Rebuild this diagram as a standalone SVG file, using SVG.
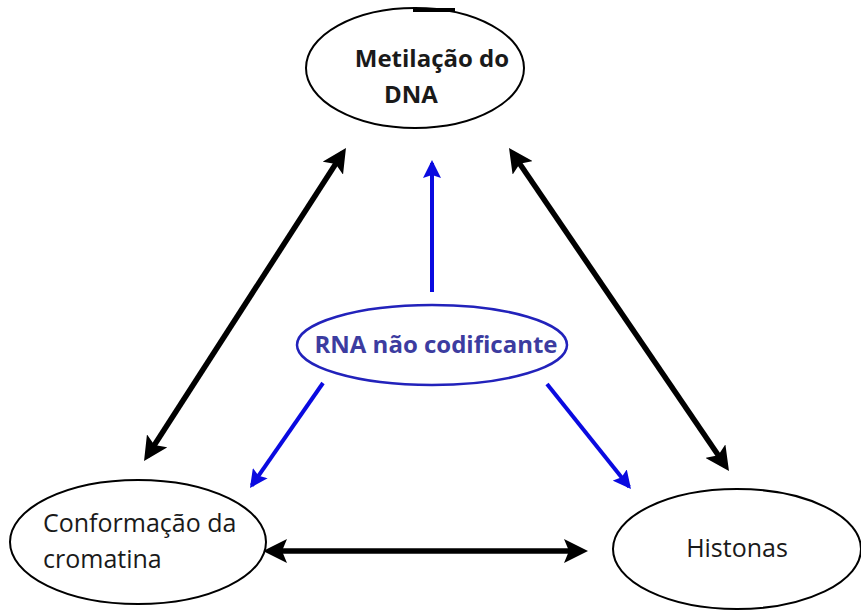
<svg xmlns="http://www.w3.org/2000/svg" width="861" height="611" viewBox="0 0 861 611">
<style>
.node{fill:#fff;stroke:#000;stroke-width:2}
.t{font-family:"Open Sans","Liberation Sans",sans-serif;fill:#1a1a1a;text-anchor:middle}
.b{font-weight:bold}
.blk{stroke:#000;stroke-width:5.5;fill:none}
.blu{stroke:#0a0ae0;stroke-width:4;fill:none}
</style>
<defs>
<marker id="ab" markerUnits="userSpaceOnUse" markerWidth="26" markerHeight="24" refX="18" refY="12" orient="auto-start-reverse" viewBox="0 0 26 24">
<path d="M0,0 L24,12 L0,24 L5,12 Z" fill="#000"/>
</marker>
<marker id="au" markerUnits="userSpaceOnUse" markerWidth="20" markerHeight="18" refX="15" refY="9" orient="auto" viewBox="0 0 20 18">
<path d="M0,0 L18,9 L0,18 L3,9 Z" fill="#0a0ae0"/>
</marker>
</defs>
<rect width="861" height="611" fill="#fff"/>
<g id="connectors">
<line class="blk" x1="342.7" y1="153" x2="147.3" y2="456" marker-start="url(#ab)" marker-end="url(#ab)"/>
<line class="blk" x1="512.4" y1="153" x2="725.6" y2="466" marker-start="url(#ab)" marker-end="url(#ab)"/>
<line class="blk" x1="269" y1="551" x2="582" y2="551" marker-start="url(#ab)" marker-end="url(#ab)"/>
<line class="blu" x1="432" y1="292" x2="432" y2="163" marker-end="url(#au)"/>
<line class="blu" x1="323" y1="383" x2="251.7" y2="485.5" marker-end="url(#au)"/>
<line class="blu" x1="547" y1="384" x2="629.1" y2="486.7" marker-end="url(#au)"/>
</g>
<g id="metilacao">
<ellipse class="node" cx="415" cy="68" rx="109" ry="60"/>
<line x1="413" y1="10" x2="455" y2="10" stroke="#000" stroke-width="4"/>
<text class="t b" x="432" y="67" font-size="24">Metilação do</text>
<text class="t b" x="411" y="103" font-size="24">DNA</text>
</g>
<g id="rna">
<ellipse cx="432" cy="345" rx="135" ry="40" fill="#fff" stroke="#2222bb" stroke-width="2.5"/>
<text class="t b" x="436" y="353" font-size="24" style="fill:#3c3ca0">RNA não codificante</text>
</g>
<g id="cromatina">
<ellipse class="node" cx="138" cy="542" rx="128" ry="62"/>
<text class="t" x="43" y="532" font-size="25" style="text-anchor:start">Conformação da</text>
<text class="t" x="43" y="568" font-size="25" style="text-anchor:start">cromatina</text>
</g>
<g id="histonas">
<ellipse class="node" cx="737" cy="549" rx="124" ry="60"/>
<text class="t" x="737" y="557" font-size="25">Histonas</text>
</g>
</svg>
